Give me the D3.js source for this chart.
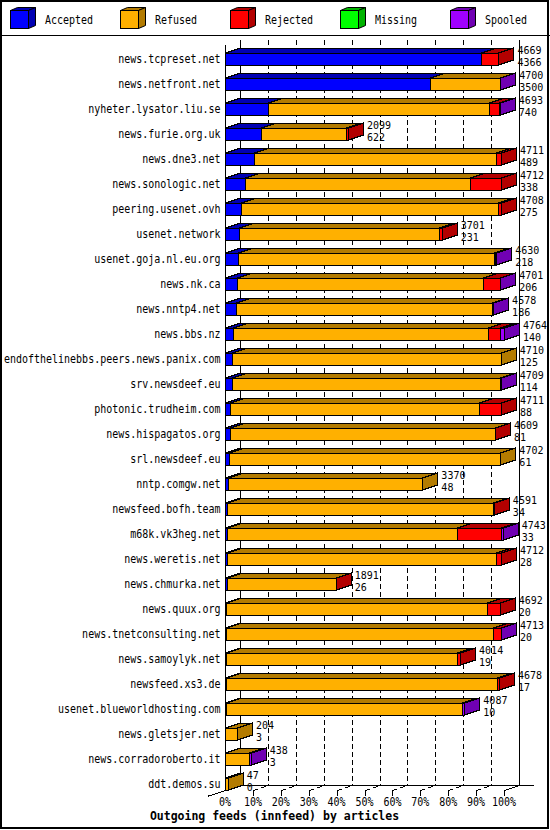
<!DOCTYPE html>
<html><head><meta charset="utf-8">
<script src="https://cdn.jsdelivr.net/npm/d3@7"></script>
<style>html,body{margin:0;padding:0;background:#fff}svg{display:block}</style>
</head><body>
<script>
const hosts = ["news.tcpreset.net","news.netfront.net","nyheter.lysator.liu.se","news.furie.org.uk","news.dne3.net","news.sonologic.net","peering.usenet.ovh","usenet.network","usenet.goja.nl.eu.org","news.nk.ca","news.nntp4.net","news.bbs.nz","endofthelinebbs.peers.news.panix.com","srv.newsdeef.eu","photonic.trudheim.com","news.hispagatos.org","srl.newsdeef.eu","nntp.comgw.net","newsfeed.bofh.team","m68k.vk3heg.net","news.weretis.net","news.chmurka.net","news.quux.org","news.tnetconsulting.net","news.samoylyk.net","newsfeed.xs3.de","usenet.blueworldhosting.com","news.gletsjer.net","news.corradoroberto.it","ddt.demos.su"];
const accepted = [4366,3500,740,622,489,338,275,231,218,206,186,140,125,114,88,81,61,48,34,33,28,26,20,20,19,17,10,3,3,0];
const refused  = [0,1190,3770,1439,4138,3849,4390,3428,4378,4203,4377,4355,4585,4585,4252,4523,4641,3322,4547,3923,4604,1862,4457,4559,3940,4630,4030,201,411,47];
const rejected = [303,0,175,38,84,525,43,42,10,285,0,200,0,0,371,5,0,0,10,751,80,3,215,126,55,31,0,0,0,0];
const missing  = [0,0,0,0,0,0,0,0,0,0,0,0,0,0,0,0,0,0,0,0,0,0,0,0,0,0,0,0,0,0];
const spooled  = [0,10,8,0,0,0,0,0,24,7,15,69,0,10,0,0,0,0,0,36,0,0,0,8,0,0,47,0,24,0];
const seriesNames = ["Accepted","Refused","Rejected","Missing","Spooled"];
const tickLabels = ["0%","10%","20%","30%","40%","50%","60%","70%","80%","90%","100%"];
const title = "Outgoing feeds (innfeed) by articles";

const series = [accepted, refused, rejected, missing, spooled];
const front = ["#0000ff","#ffb000","#ff0000","#00ff00","#a000ff"];
const dark  = ["#0000b3","#b37b00","#b30000","#00b300","#7000b3"];
const totals = hosts.map((h,i)=>d3.sum(series, s=>s[i]));
const maxTotal = d3.max(totals);

const W=550,H=830, DX=15, DY=5, BH=12;
const FONT = "'DejaVu Sans Mono', monospace";
const svg = d3.select("body").append("svg").attr("width",W).attr("height",H);
svg.append("rect").attr("width",W).attr("height",H).attr("fill","#fff");

const x = d3.scaleLinear().domain([0,maxTotal]).range([225,504]);
const y = d3.scaleBand().domain(hosts).range([40.5,790.5]);
const T = h => y(h)+12.5;
const px = v => Math.round(v)+0.5;

function txt(g,xp,yp,s,anchor,size,sx,bold){
  return g.append("text").attr("transform",`translate(${xp},${yp}) scale(${sx==null?0.87:sx},1)`)
   .attr("text-anchor",anchor||"start").attr("font-family",FONT)
   .attr("font-size",size||11.5).attr("font-weight",bold?"bold":"normal").attr("fill","#000").text(s);
}
const line = (g,x1,y1,x2,y2,dash)=>g.append("line").attr("x1",x1).attr("y1",y1).attr("x2",x2).attr("y2",y2)
  .attr("stroke","#000").attr("stroke-width",1).attr("shape-rendering","crispEdges").attr("stroke-dasharray",dash||null);

// border + legend
svg.append("rect").attr("x",1).attr("y",1).attr("width",547).attr("height",827).attr("fill","none").attr("stroke","#000").attr("stroke-width",2);
line(svg,0,35.5,W,35.5);
const lg = svg.append("g");
seriesNames.forEach((n,k)=>{
  const lx = 10+110*k+0.5, ly=10.5, s=18, d=7, e=3;
  lg.append("path").attr("d",`M${lx},${ly}L${lx+d},${ly-e}L${lx+s+d},${ly-e}L${lx+s},${ly}Z`).attr("fill",dark[k]).attr("stroke","#000");
  lg.append("path").attr("d",`M${lx+s},${ly}L${lx+s+d},${ly-e}L${lx+s+d},${ly+s-e}L${lx+s},${ly+s}Z`).attr("fill",dark[k]).attr("stroke","#000");
  lg.append("rect").attr("x",lx).attr("y",ly).attr("width",s).attr("height",s).attr("fill",front[k]).attr("stroke","#000");
  txt(lg,lx+34.5,24,n);
});

// walls / grid
const g = svg.append("g");
const backX = p => px(x(maxTotal*p/10))+DX;
for(let i=1;i<10;i++){ line(g,backX(i),40,backX(i),785,"5,3"); }
line(g,240.5,40,240.5,785.5);
line(g,backX(10),40,backX(10),785.5);
line(g,225.5,45,225.5,790.5);
line(g,240.5,785.5,534,785.5);
g.append("line").attr("x1",240.5).attr("y1",785.5).attr("x2",208).attr("y2",796.2).attr("stroke","#000").attr("shape-rendering","crispEdges");
for(let i=1;i<=10;i++){
  const fx = px(x(maxTotal*i/10));
  line(g,fx,790,fx,795.5);
  g.append("line").attr("x1",fx).attr("y1",790.5).attr("x2",fx+DX).attr("y2",785.5).attr("stroke","#000")
    .attr("shape-rendering","crispEdges").attr("stroke-dasharray",i===10?null:"5,3");
}
tickLabels.forEach((t,i)=>txt(g,x(maxTotal*i/10),806,t,"middle"));
txt(svg,274.5,820,title,"middle",11.5,1,true);

// bars
const bars = svg.append("g");
hosts.forEach((h,i)=>{
  const t = T(h);
  let c=0, last=-1, lastX1=null;
  const gb = bars.append("g");
  series.forEach((s,k)=>{
    const v=s[i]; if(v<=0) return;
    const x0=px(x(c)), x1=px(x(c+v)); c+=v;
    gb.append("path").attr("d",`M${x0},${t}L${x0+DX},${t-DY}L${x1+DX},${t-DY}L${x1},${t}Z`).attr("fill",dark[k]).attr("stroke","#000").attr("shape-rendering","crispEdges");
    gb.append("path").attr("d",`M${x0},${t}L${x1},${t}L${x1},${t+BH}L${x0},${t+BH}Z`).attr("fill",front[k]).attr("stroke","#000").attr("shape-rendering","crispEdges");
    last=k; lastX1=x1;
  });
  if(last>=0){
    gb.append("path").attr("d",`M${lastX1},${t}L${lastX1+DX},${t-DY}L${lastX1+DX},${t+BH-DY}L${lastX1},${t+BH}Z`).attr("fill",dark[last]).attr("stroke","#000").attr("shape-rendering","crispEdges");
  }
  const nx = x(totals[i])+DX+4;
  txt(bars,nx,t+1,String(totals[i]),"start",10,1);
  txt(bars,nx,t+13,String(accepted[i]),"start",10,1);
  txt(bars,220.5,t+9.5,h,"end");
});
</script>
</body></html>
